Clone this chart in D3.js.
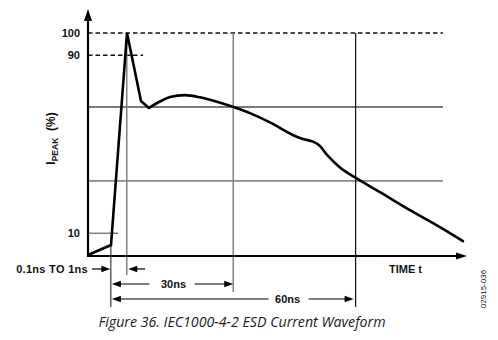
<!DOCTYPE html>
<html>
<head>
<meta charset="utf-8">
<script src="https://cdn.jsdelivr.net/npm/d3@7"></script>
<style>
  html, body { margin: 0; padding: 0; background: #fff; }
  svg { display: block; }
  .lbl { font-family: "Liberation Sans", Arial, sans-serif; font-weight: bold; fill: #111; }
</style>
</head>
<body>
<svg id="chart" width="498" height="340"></svg>
<script>
// ESD current waveform (IEC1000-4-2), time in ns, current in % of peak.
// Fast rising edge up to the peak and the drop into the first valley.
const riseTime    = [0, 5.64, 9.56, 12.99, 14.95];
const riseCurrent = [0.2, 4.7, 100, 69.4, 66.3];

// Slow second hump and decay tail.
const decayTime    = [14.95, 17.65, 20.10, 23.77, 27.45, 31.62, 36.03, 39.71, 44.61, 50.74, 53.19, 55.15, 56.86, 58.58, 61.76, 65.44, 71.57, 78.92, 86.27, 91.91];
const decayCurrent = [66.3, 69.2, 71.2, 72.1, 71.1, 69.1, 66.5, 64.0, 59.8, 53.7, 52.1, 51.2, 49.2, 45.2, 39.6, 35.1, 28.5, 20.4, 12.8, 6.5];

// Reference levels (%)
const yTickValues  = [100, 90, 10];
const dashedLevels = [100, 90];
const gridLevels   = [66.7, 33.5];

// Time markers (ns)
const riseStart = 5.6;
const peakTime  = 9.5;
const spanNs    = [30, 60];
const spanLabels = ["30ns", "60ns"];
const riseLabel = "0.1ns TO 1ns";
const xTitle = "TIME t";
const caption = "Figure 36. IEC1000-4-2 ESD Current Waveform";
const figCode = "02915-036";

const svg = d3.select("#chart");

const x = d3.scaleLinear().domain([0, 92.9]).range([88, 467]);
const y = d3.scaleLinear().domain([0, 100]).range([255.5, 33]);
const x0 = x(0), yAxis = 256;
const gridEndT = 87;

// horizontal reference grid lines
svg.selectAll("line.grid").data(gridLevels).join("line")
  .attr("class", "grid")
  .attr("x1", x0).attr("x2", x(gridEndT))
  .attr("y1", d => y(d)).attr("y2", d => y(d))
  .attr("stroke", (d, i) => i === 0 ? "#7a7a7a" : "#333")
  .attr("stroke-width", (d, i) => i === 0 ? 2 : 1);

// dashed peak / 90% lines
const dashEnd = [gridEndT, 13.5];
svg.selectAll("line.dash").data(dashedLevels).join("line")
  .attr("class", "dash")
  .attr("x1", x0).attr("x2", (d, i) => x(dashEnd[i]))
  .attr("y1", d => y(d)).attr("y2", d => y(d))
  .attr("stroke", "#111").attr("stroke-width", 1.6)
  .attr("stroke-dasharray", "4.5,3");

// 10% tick line
svg.append("line")
  .attr("x1", x0).attr("x2", x(7.4))
  .attr("y1", y(10)).attr("y2", y(10))
  .attr("stroke", "#808080").attr("stroke-width", 1.5);

// vertical time markers
const markers = [
  { t: riseStart, top: y(4.7) + 1, bottom: 307, color: "#111", w: 1 },
  { t: peakTime, top: y(100), bottom: 275, color: "#808080", w: 1.5 },
  { t: riseStart + spanNs[0], top: y(100), bottom: 292, color: "#808080", w: 1.5 },
  { t: riseStart + spanNs[1], top: y(100), bottom: 307, color: "#111", w: 1.2 }
];
svg.selectAll("line.mark").data(markers).join("line")
  .attr("class", "mark")
  .attr("x1", d => x(d.t)).attr("x2", d => x(d.t))
  .attr("y1", d => d.top).attr("y2", d => d.bottom)
  .attr("stroke", d => d.color).attr("stroke-width", d => d.w);

// axes with arrowheads
svg.append("line").attr("x1", x0).attr("x2", x0).attr("y1", yAxis + 1).attr("y2", 14)
  .attr("stroke", "#000").attr("stroke-width", 2.2);
svg.append("path").attr("d", `M${x0},9 L${x0 - 4},21 L${x0 + 4},21 Z`).attr("fill", "#000");
svg.append("line").attr("x1", x0).attr("x2", x.range()[1] - 4).attr("y1", yAxis).attr("y2", yAxis)
  .attr("stroke", "#000").attr("stroke-width", 2.2);
svg.append("path")
  .attr("d", `M${x.range()[1]},${yAxis} L${x.range()[1] - 11},${yAxis - 3.5} L${x.range()[1] - 11},${yAxis + 3.5} Z`)
  .attr("fill", "#000");

// waveform
const riseLine = d3.line().x(d => x(d[0])).y(d => y(d[1])).curve(d3.curveLinear);
const decayLine = d3.line().x(d => x(d[0])).y(d => y(d[1])).curve(d3.curveCatmullRom.alpha(0.5));
svg.append("path")
  .attr("d", riseLine(d3.zip(riseTime, riseCurrent)))
  .attr("fill", "none").attr("stroke", "#000").attr("stroke-width", 2.6)
  .attr("stroke-linejoin", "miter");
svg.append("path")
  .attr("d", decayLine(d3.zip(decayTime, decayCurrent)))
  .attr("fill", "none").attr("stroke", "#000").attr("stroke-width", 2.6)
  .attr("stroke-linecap", "round");

// y tick labels
svg.selectAll("text.ytick").data(yTickValues).join("text")
  .attr("class", "lbl ytick")
  .attr("x", 80).attr("y", d => y(d) + 4)
  .attr("text-anchor", "end").attr("font-size", 11)
  .text(d => d);

// y axis title: I_PEAK (%)
const yt = svg.append("text").attr("class", "lbl")
  .attr("transform", "translate(55,138.5) rotate(-90)")
  .attr("text-anchor", "middle").attr("font-size", 12);
yt.append("tspan").text("I");
yt.append("tspan").attr("font-size", 8.5).attr("dy", 2.5).text("PEAK");
yt.append("tspan").attr("dy", -2.5).text("\u00a0\u00a0(%)");

// x axis title
svg.append("text").attr("class", "lbl")
  .attr("x", 389).attr("y", 272.5).attr("font-size", 11).text(xTitle);

// arrow helper: line from xa to xb with filled head at xb
function arrow(xa, yy, xb) {
  const dir = Math.sign(xb - xa);
  svg.append("line").attr("x1", xa).attr("x2", xb - dir * 6).attr("y1", yy).attr("y2", yy)
    .attr("stroke", "#000").attr("stroke-width", 1.2);
  svg.append("path")
    .attr("d", `M${xb},${yy} L${xb - dir * 9},${yy - 3.2} L${xb - dir * 9},${yy + 3.2} Z`)
    .attr("fill", "#000");
}

// rise-time annotation
const rowRise = 269;
svg.append("text").attr("class", "lbl")
  .attr("x", 88).attr("y", rowRise + 3.8).attr("text-anchor", "end").attr("font-size", 11)
  .attr("letter-spacing", 0.3)
  .text(riseLabel);
arrow(92, rowRise, x(riseStart) - 0.5);
arrow(145, rowRise, x(peakTime) + 1.5);

// 30ns span
const row30 = 284;
const xs = x(riseStart) + 1, x30 = x(riseStart + spanNs[0]), x60 = x(riseStart + spanNs[1]);
const c30 = (xs + x30) / 2 + 1;
svg.append("text").attr("class", "lbl")
  .attr("x", c30).attr("y", row30 + 4).attr("text-anchor", "middle").attr("font-size", 11)
  .text(spanLabels[0]);
arrow(c30 - 24, row30, xs);
arrow(c30 + 21, row30, x30);

// 60ns span
const row60 = 299;
const c60 = x60 - 68;
svg.append("text").attr("class", "lbl")
  .attr("x", c60).attr("y", row60 + 4).attr("text-anchor", "middle").attr("font-size", 11)
  .text(spanLabels[1]);
arrow(c60 - 19, row60, xs);
arrow(c60 + 21, row60, x60 - 2);

// figure code, rotated
svg.append("text")
  .attr("transform", "translate(486,289) rotate(-90)")
  .attr("text-anchor", "middle")
  .attr("font-family", "Liberation Sans, Arial, sans-serif")
  .attr("font-size", 8).attr("fill", "#111")
  .text(figCode);

// caption
svg.append("text")
  .attr("x", 242).attr("y", 327)
  .attr("text-anchor", "middle")
  .attr("font-family", "Open Sans, sans-serif")
  .attr("font-style", "italic")
  .attr("font-size", 14.2).attr("fill", "#1a1a1a")
  .text(caption);
</script>
</body>
</html>
